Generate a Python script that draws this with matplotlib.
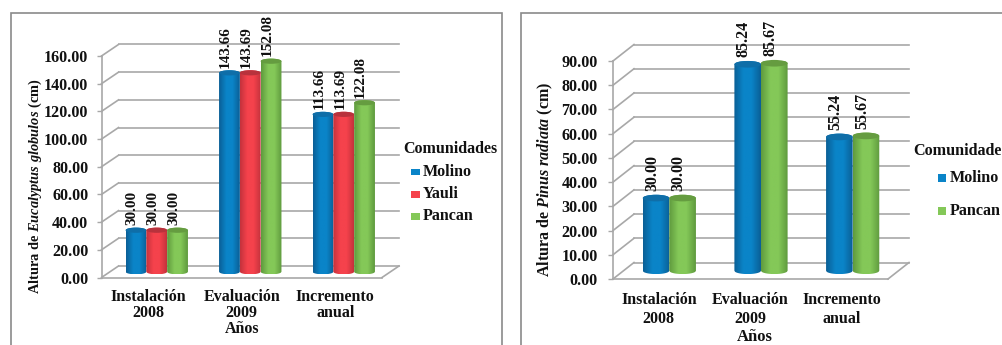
import numpy as np
import matplotlib
matplotlib.use("Agg")
import matplotlib.pyplot as plt
from matplotlib.colors import to_rgb
from matplotlib.patches import Ellipse, Polygon, Rectangle

plt.rcParams['font.family'] = ['Liberation Serif', 'DejaVu Serif']
plt.rcParams['font.weight'] = 'bold'
plt.rcParams['axes.labelweight'] = 'bold'
plt.rcParams['mathtext.fontset'] = 'custom'
plt.rcParams['mathtext.rm'] = 'Liberation Serif:bold'
plt.rcParams['mathtext.it'] = 'Liberation Serif:italic:bold'

# -----------------------------
# Data
# -----------------------------
categories = ["Instalación\n2008", "Evaluación\n2009", "Incremento\nanual"]

eucalyptus_molino = [30.00, 143.66, 113.66]
eucalyptus_yauli = [30.00, 143.69, 113.69]
eucalyptus_pancan = [30.00, 152.08, 122.08]
eucalyptus_ticks = [0, 20, 40, 60, 80, 100, 120, 140, 160]

pinus_molino = [30.00, 85.24, 55.24]
pinus_pancan = [30.00, 85.67, 55.67]
pinus_ticks = [0, 10, 20, 30, 40, 50, 60, 70, 80, 90]

# -----------------------------
# Style
# -----------------------------
W, H = 1002, 345
GRID = '#a8a8a8'
FRAME = '#8a8a8a'
TEXT = '#111111'
FILLS = {
    'Molino': ('#0b5f96', '#0a84c8', '#0f6ea8'),
    'Yauli': ('#c4323c', '#f5424c', '#b8323c'),
    'Pancan': ('#5f9a3e', '#84c858', '#659c40'),
}


def cylinder(ax, x0, width, value, e, base, name):
    edge, mid, top = FILLS[name]
    t = np.linspace(0, 1, 60)
    shade = np.empty((1, 60, 3))
    for c in range(3):
        shade[0, :, c] = np.interp(t, [0, 0.35, 0.65, 1],
                                   [to_rgb(edge)[c], to_rgb(mid)[c], to_rgb(mid)[c], to_rgb(edge)[c]])

    top_y = value + base
    im = ax.imshow(shade, extent=[x0, x0 + width, base - e, top_y + e], aspect='auto',
                   interpolation='bilinear', zorder=3)

    # body outline with rounded bottom and top
    s = np.linspace(-1, 1, 40)
    xs = x0 + width * (s + 1) / 2
    arc = e * np.sqrt(1 - s**2)
    outline = np.column_stack([np.r_[xs, xs[::-1]], np.r_[base - arc, (top_y + arc)[::-1]]])
    im.set_clip_path(Polygon(outline, transform=ax.transData))

    ax.add_patch(Ellipse((x0 + width / 2, top_y), width, 2 * e, facecolor=top,
                         edgecolor='none', zorder=4, clip_on=False))


def panel(fig, box, depth, series, names, ticks, ymax, bar_px, ylabel, sizes, cat_pad, tick_pad,
          line_gap, ylabel_x, ylabel_y, xlabel_xy, label_gap):
    left, top, right, bottom = box
    label_size, ylabel_size, xlabel_size = sizes
    ax = fig.add_axes([left / W, (H - bottom) / H, (right - left) / W, (bottom - top) / H])
    ax.set_xlim(0, 3)
    ax.set_ylim(0, ymax)
    ax.set_facecolor('none')

    dx = depth[0] * 3 / (right - left)
    dy = depth[1] * ymax / (bottom - top)

    # walls and floor
    for v in ticks:
        ax.plot([0, dx], [v, v + dy], color=GRID, lw=1.2, clip_on=False, zorder=1)
        ax.plot([dx, 3 + dx], [v + dy, v + dy], color=GRID, lw=1.2, clip_on=False, zorder=1)
    ax.plot([3, 3 + dx], [0, dy], color=GRID, lw=1.2, clip_on=False, zorder=1)

    # cylinders
    bw = bar_px * 3 / (right - left)
    e = bar_px * 0.125 * ymax / (bottom - top)
    n = len(series)
    for k, (vals, name) in enumerate(zip(series, names)):
        for i, v in enumerate(vals):
            x0 = i + 0.5 + dx / 2 + (k - n / 2) * bw
            cylinder(ax, x0, bw, v, e, dy / 2, name)
            ax.annotate(f"{v:.2f}", (x0 + bw / 2, v + dy / 2), xytext=(-4, label_gap),
                        textcoords='offset pixels', rotation=90, ha='center', va='bottom',
                        fontsize=label_size, color=TEXT, zorder=5, annotation_clip=False)

    ax.set_xlim(0, 3)
    ax.set_ylim(0, ymax)

    for side in ['top', 'right']:
        ax.spines[side].set_visible(False)
    for side in ['left', 'bottom']:
        ax.spines[side].set_color(GRID)
        ax.spines[side].set_linewidth(1.2)
        ax.spines[side].set_zorder(1)

    ax.set_yticks(ticks)
    ax.set_yticklabels([f"{v:.2f}" for v in ticks], fontsize=11.6, color=TEXT)
    ax.tick_params(axis='y', length=3.5, width=1.0, color=GRID, pad=tick_pad)
    ax.set_xticks([0.5, 1.5, 2.5])
    ax.set_xticklabels(categories, fontsize=11.5, color=TEXT, linespacing=line_gap)
    ax.tick_params(axis='x', length=0, pad=cat_pad)

    ax.set_ylabel(ylabel, fontsize=ylabel_size, color=TEXT)
    ax.yaxis.set_label_coords((ylabel_x - left) / (right - left), (bottom - ylabel_y) / (bottom - top))
    ax.yaxis.label.set_va('center')
    ax.set_xlabel("Años", fontsize=xlabel_size, color=TEXT)
    ax.xaxis.set_label_coords((xlabel_xy[0] - left) / (right - left), (bottom - xlabel_xy[1]) / (bottom - top))
    ax.xaxis.label.set_va('center')
    return ax


def legend(fig, title, title_xy, names, swatch_x, ys, swatch, text_x, size):
    fig.text(title_xy[0] / W, 1 - title_xy[1] / H, title, fontsize=size, color=TEXT, va='center')
    for name, y in zip(names, ys):
        fig.add_artist(Rectangle((swatch_x / W, 1 - (y + swatch[1] / 2) / H),
                                 swatch[0] / W, swatch[1] / H,
                                 transform=fig.transFigure, facecolor=FILLS[name][1], edgecolor='none'))
        fig.text(text_x / W, 1 - y / H, name, fontsize=size, color=TEXT, va='center')


# -----------------------------
# Figure
# -----------------------------
fig = plt.figure(figsize=(W / 100, H / 100), dpi=100, facecolor='white')

# chart frames run off the bottom and right of the figure
fig.add_artist(Rectangle((10.5 / W, -0.02), 491 / W, 1.02 - 13.5 / H, transform=fig.transFigure,
                         fill=False, edgecolor=FRAME, lw=1.2))
fig.add_artist(Rectangle((520.5 / W, -0.02), 500 / W, 1.02 - 13.5 / H, transform=fig.transFigure,
                         fill=False, edgecolor=FRAME, lw=1.2))

panel(fig, (101.5, 56, 382, 277.5), (17, 11.5),
      [eucalyptus_molino, eucalyptus_yauli, eucalyptus_pancan], ['Molino', 'Yauli', 'Pancan'],
      eucalyptus_ticks, 160, 20.8, r"Altura de $\mathit{Eucalyptus\ globulos}$ (cm)",
      (11, 10.4, 11.5), 8.5, 6, 1.0, 35, 186, (242, 329), 5)

panel(fig, (613, 61, 888, 279), (21, 16.5),
      [pinus_molino, pinus_pancan], ['Molino', 'Pancan'],
      pinus_ticks, 90, 26.6, r"Altura de $\mathit{Pinus\ radiata}$ (cm)",
      (11.5, 11.5, 12), 9.5, 7.5, 1.22, 545, 179, (755, 337), 7)

legend(fig, "Comunidades", (403, 149), ['Molino', 'Yauli', 'Pancan'], 411, [172, 194, 216], (9, 7), 423, 11.5)
legend(fig, "Comunidade", (913, 151), ['Molino', 'Pancan'], 938, [178, 211], (8, 8), 950, 11.6)

fig.savefig("out.png", dpi=100)
